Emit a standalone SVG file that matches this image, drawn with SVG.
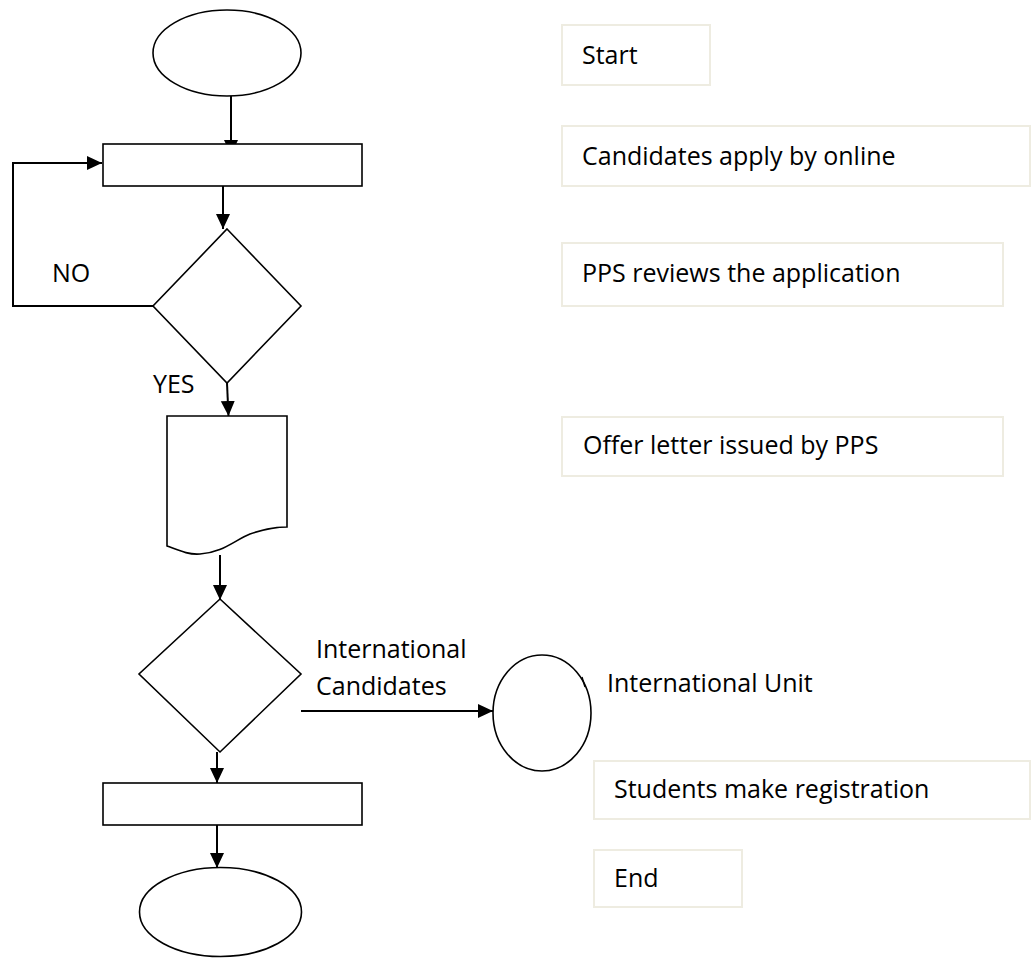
<svg xmlns="http://www.w3.org/2000/svg" width="1031" height="958" viewBox="0 0 1031 958">
  <style>
    .shape { fill: #ffffff; stroke: #000000; stroke-width: 1.6; }
    .conn { fill: none; stroke: #000000; stroke-width: 2; }
    .label { font-family: "Open Sans", "Liberation Sans", sans-serif; font-size: 25px; fill: #000000; }
    .box { fill: #ffffff; stroke: #EEECE1; stroke-width: 2; }
  </style>
  <defs>
    <marker id="arrow" markerUnits="userSpaceOnUse" markerWidth="16" markerHeight="16" refX="15" refY="7" orient="auto">
      <path d="M0,0 L15,7 L0,14 Z" fill="#000000"/>
    </marker>
  </defs>
  <rect x="0" y="0" width="1031" height="958" fill="#ffffff"/>

  <g id="connectors">
    <line class="conn" x1="231" y1="96" x2="231" y2="155" marker-end="url(#arrow)"/>
    <line class="conn" x1="223" y1="186" x2="223" y2="229" marker-end="url(#arrow)"/>
    <polyline class="conn" points="153,306 13,306 13,163 102,163" marker-end="url(#arrow)"/>
    <line class="conn" x1="227" y1="383" x2="228.5" y2="416" marker-end="url(#arrow)"/>
    <line class="conn" x1="220" y1="555" x2="220" y2="600" marker-end="url(#arrow)"/>
    <line class="conn" x1="301" y1="711" x2="493" y2="711" marker-end="url(#arrow)"/>
    <line class="conn" x1="217" y1="752" x2="217" y2="783" marker-end="url(#arrow)"/>
    <line class="conn" x1="217" y1="825" x2="217" y2="868" marker-end="url(#arrow)"/>
  </g>

  <g id="start-node">
    <ellipse class="shape" cx="227" cy="53" rx="74" ry="43"/>
  </g>
  <g id="apply-node">
    <rect class="shape" x="103" y="144" width="259" height="42"/>
  </g>
  <g id="review-node">
    <polygon class="shape" points="227,229 301,306 227,383 153,306"/>
  </g>
  <g id="offer-node">
    <path class="shape" d="M167,416 H287 V527 C272,527 262,530 250,534 C235,540 222,553 200,554 C188,555 178,550 167,546 Z"/>
  </g>
  <g id="intl-decision-node">
    <polygon class="shape" points="220,599 301,674 220,752 139,674"/>
  </g>
  <g id="intl-unit-node">
    <ellipse class="shape" cx="542" cy="713" rx="49" ry="58"/>
    <line x1="582" y1="677" x2="585" y2="687" stroke="#000000" stroke-width="1.4"/>
  </g>
  <g id="register-node">
    <rect class="shape" x="103" y="783" width="259" height="42"/>
  </g>
  <g id="end-node">
    <ellipse class="shape" cx="220.5" cy="912" rx="81" ry="44.5"/>
  </g>

  <g id="edge-labels">
    <text class="label" x="52" y="282">NO</text>
    <text class="label" x="153" y="393">YES</text>
    <text class="label" x="316" y="658">International</text>
    <text class="label" x="316" y="695">Candidates</text>
  </g>

  <g id="legend-start">
    <rect class="box" x="562" y="25" width="148" height="60"/>
    <text class="label" x="582" y="64">Start</text>
  </g>
  <g id="legend-apply">
    <rect class="box" x="562" y="126" width="468" height="60"/>
    <text class="label" x="582" y="165">Candidates apply by online</text>
  </g>
  <g id="legend-review">
    <rect class="box" x="562" y="243" width="441" height="63"/>
    <text class="label" x="582" y="282">PPS reviews the application</text>
  </g>
  <g id="legend-offer">
    <rect class="box" x="562" y="417" width="441" height="59"/>
    <text class="label" x="583" y="454">Offer letter issued by PPS</text>
  </g>
  <g id="legend-intl">
    <text class="label" x="607" y="692">International Unit</text>
  </g>
  <g id="legend-register">
    <rect class="box" x="594" y="761" width="436" height="58"/>
    <text class="label" x="614" y="798">Students make registration</text>
  </g>
  <g id="legend-end">
    <rect class="box" x="594" y="850" width="148" height="57"/>
    <text class="label" x="614" y="887">End</text>
  </g>
</svg>
